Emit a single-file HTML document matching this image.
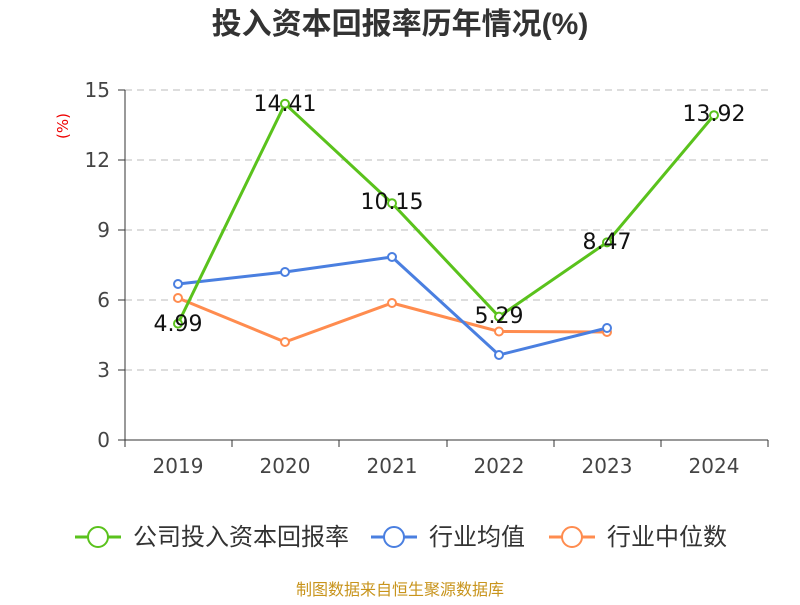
<!DOCTYPE html>
<html><head><meta charset="utf-8"><style>body{margin:0;background:#fff}</style></head><body>
<svg width="800" height="600" xmlns="http://www.w3.org/2000/svg" font-family="DejaVu Sans, Noto Sans CJK SC, sans-serif">
<text x="400" y="34" text-anchor="middle" font-size="30" font-weight="bold" fill="#333" font-family="Liberation Sans, Noto Sans CJK SC, sans-serif">投入资本回报率历年情况(%)</text>
<text x="68" y="126" text-anchor="middle" font-size="15" fill="#e00" transform="rotate(-90 68 126)">(%)</text>
<g stroke="#bbb" stroke-dasharray="7,5" stroke-width="1">
<line x1="125" y1="90" x2="768" y2="90"/><line x1="125" y1="160" x2="768" y2="160"/><line x1="125" y1="230" x2="768" y2="230"/><line x1="125" y1="300" x2="768" y2="300"/><line x1="125" y1="370" x2="768" y2="370"/></g>
<g stroke="#333" stroke-width="1">
<line x1="125" y1="90" x2="125" y2="440"/><line x1="125" y1="440" x2="768" y2="440"/>
<line x1="118" y1="90" x2="125" y2="90"/><line x1="118" y1="160" x2="125" y2="160"/><line x1="118" y1="230" x2="125" y2="230"/><line x1="118" y1="300" x2="125" y2="300"/><line x1="118" y1="370" x2="125" y2="370"/><line x1="118" y1="440" x2="125" y2="440"/>
<line x1="125" y1="440" x2="125" y2="447"/><line x1="232" y1="440" x2="232" y2="447"/><line x1="339" y1="440" x2="339" y2="447"/><line x1="447" y1="440" x2="447" y2="447"/><line x1="554" y1="440" x2="554" y2="447"/><line x1="661" y1="440" x2="661" y2="447"/><line x1="768" y1="440" x2="768" y2="447"/></g>
<g font-size="20" fill="#444" text-anchor="end">
<text x="110" y="97">15</text><text x="110" y="167">12</text><text x="110" y="237">9</text><text x="110" y="307">6</text><text x="110" y="377">3</text><text x="110" y="447">0</text></g>
<g font-size="20" fill="#444" text-anchor="middle">
<text x="178" y="473">2019</text><text x="285" y="473">2020</text><text x="392" y="473">2021</text><text x="499" y="473">2022</text><text x="607" y="473">2023</text><text x="714" y="473">2024</text></g>
<polyline fill="none" stroke="#ff8c4f" stroke-width="3" points="178,298 285,342 392,303 499,331.5 607,332"/>
<polyline fill="none" stroke="#4a7fe0" stroke-width="3" points="178,284 285,272 392,257 499,355 607,328"/>
<polyline fill="none" stroke="#5ac21c" stroke-width="3" points="178,323.6 285,103.8 392,203.2 499,316.6 607,242.4 714,115.2"/>
<g fill="#fff" stroke="#ff8c4f" stroke-width="2"><circle cx="178" cy="298" r="4"/><circle cx="285" cy="342" r="4"/><circle cx="392" cy="303" r="4"/><circle cx="499" cy="331.5" r="4"/><circle cx="607" cy="332" r="4"/></g>
<g fill="#fff" stroke="#4a7fe0" stroke-width="2"><circle cx="178" cy="284" r="4"/><circle cx="285" cy="272" r="4"/><circle cx="392" cy="257" r="4"/><circle cx="499" cy="355" r="4"/><circle cx="607" cy="328" r="4"/></g>
<g fill="#fff" stroke="#5ac21c" stroke-width="2"><circle cx="178" cy="323.6" r="4"/><circle cx="285" cy="103.8" r="4"/><circle cx="392" cy="203.2" r="4"/><circle cx="499" cy="316.6" r="4"/><circle cx="607" cy="242.4" r="4"/><circle cx="714" cy="115.2" r="4"/></g>
<g font-size="22" fill="#111" text-anchor="middle">
<text x="178" y="331">4.99</text><text x="285" y="111">14.41</text><text x="392" y="209">10.15</text><text x="499" y="323">5.29</text><text x="607" y="249">8.47</text><text x="714" y="121">13.92</text></g>
<g font-size="24" fill="#333">
<line x1="75" y1="537" x2="121" y2="537" stroke="#5ac21c" stroke-width="3"/><circle cx="98" cy="537" r="10" fill="#fff" stroke="#5ac21c" stroke-width="2"/><text x="133" y="545">公司投入资本回报率</text>
<line x1="371" y1="537" x2="417" y2="537" stroke="#4a7fe0" stroke-width="3"/><circle cx="394" cy="537" r="10" fill="#fff" stroke="#4a7fe0" stroke-width="2"/><text x="429" y="545">行业均值</text>
<line x1="549" y1="537" x2="595" y2="537" stroke="#ff8c4f" stroke-width="3"/><circle cx="572" cy="537" r="10" fill="#fff" stroke="#ff8c4f" stroke-width="2"/><text x="607" y="545">行业中位数</text></g>
<text x="400" y="595" text-anchor="middle" font-size="16" fill="#c8941c">制图数据来自恒生聚源数据库</text>
</svg>
</body></html>
